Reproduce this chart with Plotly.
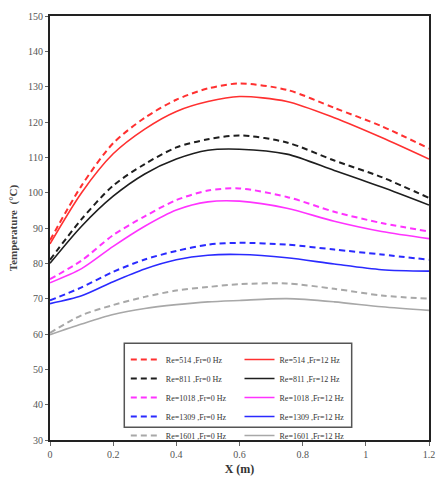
import plotly.graph_objects as go

# Axial position along the channel (m)
x_pos = [0, 0.1, 0.2, 0.3, 0.4, 0.5, 0.6, 0.75, 0.9, 1.05, 1.2]

# Wall temperature (deg C) for each Reynolds number, without pulsation (0 Hz)
t_re514_f0 = [86.5, 102.0, 114.0, 121.2, 126.3, 129.5, 130.9, 129.1, 124.0, 118.8, 112.5]
t_re811_f0 = [81.0, 92.5, 102.0, 108.1, 112.8, 115.1, 116.2, 114.2, 109.1, 104.4, 98.5]
t_re1018_f0 = [75.5, 80.8, 88.0, 93.3, 97.9, 100.6, 101.2, 98.8, 94.6, 91.4, 89.0]
t_re1309_f0 = [69.5, 73.2, 77.6, 81.1, 83.5, 85.3, 85.8, 85.3, 83.9, 82.5, 81.0]
t_re1601_f0 = [60.3, 65.3, 68.2, 70.5, 72.3, 73.3, 74.1, 74.3, 72.8, 70.9, 70.0]

# Wall temperature (deg C) with 12 Hz pulsation
t_re514_f12 = [85.5, 100.0, 111.0, 118.0, 123.0, 125.8, 127.2, 125.8, 121.2, 115.6, 109.5]
t_re811_f12 = [80.0, 90.5, 99.0, 105.3, 109.5, 112.0, 112.3, 110.9, 106.3, 101.6, 96.5]
t_re1018_f12 = [74.5, 78.5, 84.8, 90.5, 95.1, 97.4, 97.6, 95.6, 91.9, 89.0, 87.0]
t_re1309_f12 = [68.6, 70.8, 74.8, 78.4, 81.0, 82.3, 82.5, 81.6, 79.8, 78.2, 77.8]
t_re1601_f12 = [59.8, 62.8, 65.5, 67.2, 68.3, 69.1, 69.5, 70.0, 69.1, 67.7, 66.7]

reynolds = ["514", "811", "1018", "1309", "1601"]
series_f0 = [t_re514_f0, t_re811_f0, t_re1018_f0, t_re1309_f0, t_re1601_f0]
series_f12 = [t_re514_f12, t_re811_f12, t_re1018_f12, t_re1309_f12, t_re1601_f12]
colors = ["#ff3030", "#1e1e1e", "#ff33ff", "#2a2aff", "#a8a8a8"]

y_ticks = list(range(30, 151, 10))
x_ticks = [0, 0.2, 0.4, 0.6, 0.8, 1, 1.2]
x_tick_text = ["0", "0.2", "0.4", "0.6", "0.8", "1", "1.2"]

serif = "Liberation Serif"

fig = go.Figure()

for re, ys, col in zip(reynolds, series_f0, colors):
    fig.add_trace(go.Scatter(
        x=x_pos, y=ys, mode="lines", name=f"Re={re} ,Fr=0 Hz",
        line=dict(color=col, width=2, dash="6px,4px", shape="spline", smoothing=0.8),
        legend="legend",
    ))

for re, ys, col in zip(reynolds, series_f12, colors):
    fig.add_trace(go.Scatter(
        x=x_pos, y=ys, mode="lines", name=f"Re={re} ,Fr=12 Hz",
        line=dict(color=col, width=1.6, shape="spline", smoothing=0.8),
        legend="legend2",
    ))

legend_common = dict(
    bgcolor="rgba(0,0,0,0)",
    font=dict(family=serif, size=8, color="#333"),
    xanchor="left", yanchor="top",
    itemwidth=30,
    tracegroupgap=0,
)

fig.update_layout(
    width=445, height=501,
    margin=dict(l=50, r=12, t=10, b=61),
    paper_bgcolor="white", plot_bgcolor="white",
    showlegend=True,
    legend=dict(x=0.2, y=0.224, **legend_common),
    legend2=dict(x=0.5, y=0.224, **legend_common),
    xaxis=dict(
        range=[0, 1.2], tickvals=x_ticks, ticktext=x_tick_text,
        showgrid=False, zeroline=False,
        showline=True, linecolor="#222", linewidth=2, mirror=True,
        ticks="outside", ticklen=4, tickcolor="#666",
        tickfont=dict(family=serif, size=10, color="#555"),
        title=dict(text="<b>X (m)</b>", font=dict(family=serif, size=12, color="#333"), standoff=6),
    ),
    yaxis=dict(
        range=[30, 150], tickvals=y_ticks,
        showgrid=False, zeroline=False,
        showline=True, linecolor="#222", linewidth=2, mirror=True,
        ticks="outside", ticklen=3, tickcolor="#666",
        tickfont=dict(family=serif, size=10, color="#555"),
        title=dict(text="<b>Temperature  (°C)</b>", font=dict(family=serif, size=11, color="#444"), standoff=8),
    ),
    shapes=[dict(
        type="rect", xref="paper", yref="paper",
        x0=0.196, x1=0.796, y0=0.03, y1=0.228,
        line=dict(color="#555", width=1.5), fillcolor="rgba(0,0,0,0)",
        layer="below",
    )],
)

fig.write_html("out.html")
